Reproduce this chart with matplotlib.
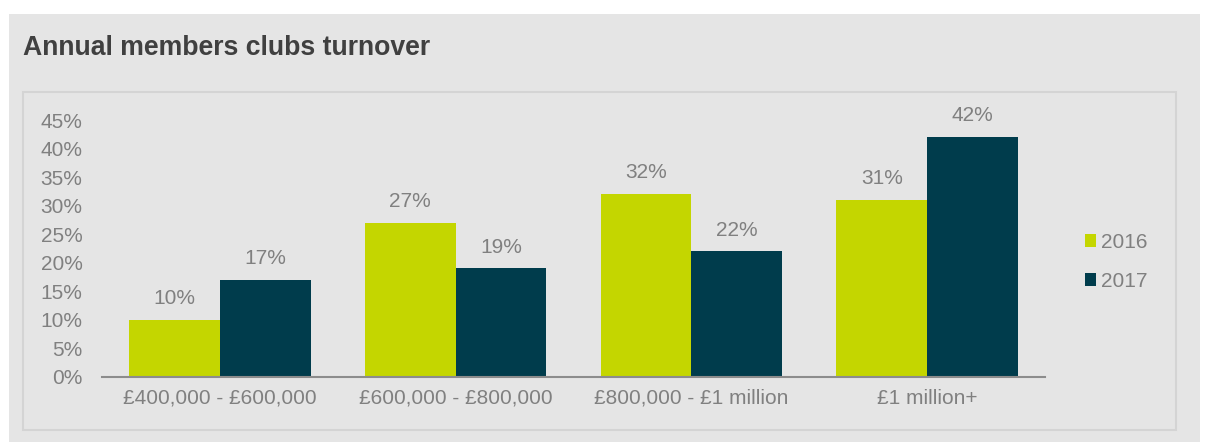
import matplotlib
matplotlib.use("Agg")
import matplotlib.pyplot as plt
from matplotlib.patches import Rectangle
import numpy as np

plt.rcParams['font.family'] = ['Liberation Sans', 'DejaVu Sans']

categories = ["£400,000 - £600,000", "£600,000 - £800,000", "£800,000 - £1 million", "£1 million+"]
series_names = ["2016", "2017"]
values_2016 = [10, 27, 32, 31]
values_2017 = [17, 19, 22, 42]
yticks = [0, 5, 10, 15, 20, 25, 30, 35, 40, 45]

c2016 = "#c4d600"
c2017 = "#003c4c"
txt = "#808080"
bg = "#e5e5e5"
fs = 15

W, H = 1208, 443
fig = plt.figure(figsize=(W/100, H/100), dpi=100)
fig.patch.set_facecolor("white")

# outer panel
fig.patches.append(Rectangle((9/W, 1-442/H), (1200-9)/W, (442-14)/H,
                             transform=fig.transFigure, facecolor=bg, edgecolor="none", zorder=-2))
# inner box
fig.patches.append(Rectangle((23/W, 1-430/H), (1176-23)/W, (430-92)/H,
                             transform=fig.transFigure, facecolor=bg, edgecolor="#d4d4d4",
                             linewidth=1.5, zorder=-1))

fig.text(23/W, 1-48/H, "Annual members clubs turnover", fontsize=19.2, fontweight="bold",
         color="#404040", va="center", ha="left")

ax = fig.add_axes([102/W, 1-377/H, (1045-102)/W, (377-120)/H])
ax.set_facecolor("none")
x = np.arange(len(categories))
w = 0.385
b1 = ax.bar(x - w/2, values_2016, w, color=c2016, label=series_names[0])
b2 = ax.bar(x + w/2, values_2017, w, color=c2017, label=series_names[1])
for bars, vals in ((b1, values_2016), (b2, values_2017)):
    for r, v in zip(bars, vals):
        ax.annotate(f"{v}%", (r.get_x() + r.get_width()/2, v), xytext=(0, 8.5),
                    textcoords="offset points", ha="center", va="bottom",
                    fontsize=fs, color=txt, annotation_clip=False)

ax.set_xlim(-0.5, len(categories) - 0.5)
ax.set_ylim(0, 45)
ax.set_yticks(yticks)
ax.set_yticklabels([f"{t}%" for t in yticks])
ax.set_xticks(x)
ax.set_xticklabels(categories)
for s in ["top", "right", "left"]:
    ax.spines[s].set_visible(False)
ax.spines["bottom"].set_color("#8c8c8c")
ax.spines["bottom"].set_linewidth(1.5)
ax.tick_params(axis="both", length=0, labelsize=fs, labelcolor=txt)
ax.tick_params(axis="y", pad=14)
ax.tick_params(axis="x", pad=8.5)

leg = fig.legend(handles=[b1, b2], labels=series_names, loc="center left",
                 bbox_to_anchor=(1068/W, 1-262/H), frameon=False, fontsize=fs,
                 handlelength=0.55, handleheight=0.55, handletextpad=0.25,
                 labelspacing=0.95, borderpad=0.3)
for t in leg.get_texts():
    t.set_color(txt)

fig.savefig("out.png", dpi=100, facecolor="white")
